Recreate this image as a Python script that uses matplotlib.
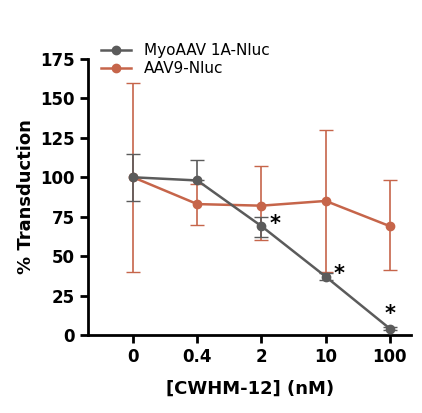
import matplotlib
matplotlib.use("Agg")
import matplotlib.pyplot as plt
from matplotlib.lines import Line2D

categories = ["0", "0.4", "2", "10", "100"]
myo_vals = [100, 98, 69, 37, 4]
myo_lo = [85, 98, 62, 35, 3]
myo_hi = [115, 111, 75, 39, 5]
aav9_vals = [100, 83, 82, 85, 69]
aav9_lo = [40, 70, 60, 40, 41]
aav9_hi = [160, 96, 107, 130, 98]
star_idx = [2, 3, 4]

gray = "#5b5b5b"
orange = "#c6654a"

fig = plt.figure(figsize=(4.22, 4.13), dpi=100)
ax = fig.add_axes([0.209, 0.189, 0.765, 0.668])
x = list(range(len(categories)))

def err(v, lo, hi):
    return [[a - b for a, b in zip(v, lo)], [c - a for a, c in zip(v, hi)]]

ax.errorbar(x, aav9_vals, yerr=err(aav9_vals, aav9_lo, aav9_hi), color=orange, marker='o',
            markersize=6, lw=1.8, capsize=5, elinewidth=1.2, zorder=2)
ax.errorbar(x, myo_vals, yerr=err(myo_vals, myo_lo, myo_hi), color=gray, marker='o',
            markersize=6, lw=1.8, capsize=5, elinewidth=1.2, zorder=3)

for i in star_idx:
    if i == 4:
        ax.text(x[i], myo_vals[i] + 3, "*", ha='center', va='bottom', fontsize=15, fontweight='bold')
    else:
        ax.text(x[i] + 0.12, myo_vals[i] - 5, "*", ha='left', va='bottom', fontsize=15, fontweight='bold')

ax.set_xlim(-0.7, 4.33)
ax.set_ylim(0, 175)
ax.set_yticks(range(0, 176, 25))
ax.set_xticks(x)
ax.set_xticklabels(categories)
for s in ["top", "right"]:
    ax.spines[s].set_visible(False)
for s in ["left", "bottom"]:
    ax.spines[s].set_linewidth(2)
ax.tick_params(width=2, length=6, labelsize=12)
for t in ax.get_xticklabels() + ax.get_yticklabels():
    t.set_fontweight('bold')
ax.set_ylabel("% Transduction", fontsize=13, fontweight='bold')
ax.set_xlabel("[CWHM-12] (nM)", fontsize=13, fontweight='bold', labelpad=10)

handles = [Line2D([], [], color=gray, marker='o', markersize=6, lw=1.8),
           Line2D([], [], color=orange, marker='o', markersize=6, lw=1.8)]
ax.legend(handles, ["MyoAAV 1A-Nluc", "AAV9-Nluc"], loc='upper left', bbox_to_anchor=(0.02, 1.08),
          frameon=False, fontsize=11, handlelength=2, borderaxespad=0, labelspacing=0.2)

fig.savefig("out.png", dpi=100)
